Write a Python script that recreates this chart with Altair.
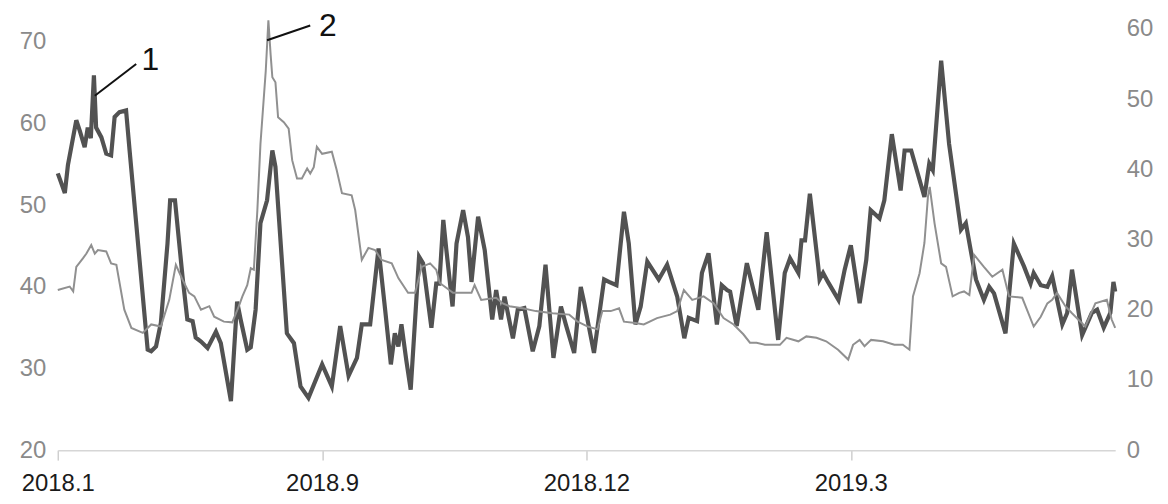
import altair as alt
import pandas as pd

# x positions are in trading-day index units (label every 60 units)
x_ticks = [0, 60, 120, 180]
x_labels = ["2018.1", "2018.9", "2018.12", "2019.3"]
left_ticks = [20, 30, 40, 50, 60, 70]
right_ticks = [0, 10, 20, 30, 40, 50, 60]

# dark series (left axis)
dark_x = [0, 1.6, 2.3, 4.2, 5.0, 6.1, 6.8, 7.5, 8.2, 8.7, 9.9, 11.0, 12.1, 12.9, 14.0, 15.5, 16.3,
          20.4, 21.2, 22.3, 23.4, 24.9, 25.5, 26.6, 28.3, 29.4, 30.6, 31.3, 32.5, 34.0, 35.9, 37.0,
          39.3, 40.7, 41.5, 43.0, 43.8, 44.9, 46.0, 47.5, 48.7, 49.4, 52.0, 53.6, 55.1, 56.9, 60.0,
          62.2, 64.1, 66.0, 67.9, 69.0, 70.9, 72.8, 74.3, 75.6, 76.5, 77.3, 78.0, 79.1, 80.1, 82.0,
          82.9, 84.8, 85.9, 86.6, 87.5, 88.2, 89.6, 90.5, 92.0, 93.1, 93.9, 95.4, 96.9, 98.6, 99.5,
          100.6, 101.4, 103.3, 104.4, 105.9, 107.8, 109.3, 110.7, 112.5, 114.2, 115.3, 117.2, 118.7,
          119.5, 121.7, 124.0, 125.1, 126.8, 128.5, 129.6, 131.1, 132.3, 133.8, 136.4, 138.3, 140.6,
          142.2, 143.2, 145.1, 146.2, 147.7, 149.6, 150.7, 151.9, 152.6, 154.1, 156.4, 159.0, 160.9,
          163.5, 165.0, 166.2, 168.1, 168.8, 169.6, 170.7, 172.6, 172.9, 173.7, 174.8, 177.2, 178.6,
          180.0, 182.0, 183.5, 184.5, 186.5, 187.6, 189.3, 191.3, 192.2, 193.7, 196.7, 197.8, 198.6,
          200.5, 202.3, 205.0, 206.1, 208.4, 210.2, 211.4, 212.5, 215.1, 217.0, 219.3, 220.8, 221.5,
          223.1, 224.6, 225.7, 228.0, 229.1, 230.2, 232.5, 234.7, 235.9, 237.4, 238.9, 239.6, 240.0]
dark_v = [53.9, 51.5, 54.9, 60.4, 59.1, 57.1, 59.5, 58.2, 65.9, 59.5, 58.3, 56.3, 56.1, 60.8, 61.4, 61.6, 56.7,
          32.3, 32.1, 32.7, 35.6, 45.3, 50.6, 50.6, 41.3, 36.0, 35.8, 33.8, 33.3, 32.5, 34.5, 33.1,
          26.0, 38.2, 36.0, 32.3, 32.6, 37.2, 47.8, 50.6, 56.7, 54.7, 34.3, 33.1, 27.8, 26.4, 30.5,
          27.8, 35.2, 29.1, 31.3, 35.4, 35.4, 44.7, 37.2, 30.5, 34.3, 32.7, 35.4, 31.0, 27.4, 43.7,
          42.9, 35.0, 40.4, 40.4, 48.2, 44.5, 37.6, 45.3, 49.4, 46.1, 40.6, 48.6, 44.5, 36.0, 39.6,
          36.0, 38.8, 33.7, 37.2, 37.4, 32.1, 35.2, 42.7, 31.3, 37.6, 35.4, 31.9, 40.0,
          38.0, 31.9, 40.9, 40.6, 40.2, 49.2, 45.3, 35.4, 37.6, 43.1, 40.9, 42.7, 38.8,
          33.7, 36.2, 35.8, 41.7, 44.1, 35.4, 40.2, 39.6, 39.4, 35.2, 42.9, 37.2, 46.7,
          33.5, 41.7, 43.5, 41.7, 45.7, 45.7, 51.4, 42.5, 40.9, 41.7, 40.6, 38.4, 42.1,
          45.1, 38.0, 43.3, 49.4, 48.4, 50.6, 58.7, 51.8, 56.7, 56.7, 51.0, 55.1, 54.3,
          67.7, 57.5, 47.0, 47.8, 40.9, 38.4, 40.0, 39.2, 34.3, 45.3, 42.5, 40.4, 41.7,
          40.2, 40.0, 41.3, 35.4, 36.8, 42.1, 34.1, 36.8, 37.2, 35.0, 36.8, 40.6, 39.4]

# light series (right axis)
light_x = [0, 2.7, 3.5, 4.2, 5.7, 6.5, 7.6, 8.4, 9.1, 11.0, 12.1, 13.3, 15.1, 16.7, 19.3, 21.2, 23.4,
           25.3, 26.8, 28.3, 29.8, 31.0, 32.5, 34.4, 35.5, 37.7, 39.6, 41.1, 41.9, 43.0, 43.8, 44.5,
           45.3, 46.0, 47.2, 47.8, 48.3, 48.7, 49.4, 50.0, 51.3, 52.4, 53.2, 54.3, 55.4, 56.6, 57.3,
           58.1, 58.8, 60.0, 62.2, 63.3, 64.5, 66.7, 67.5, 69.0, 70.5, 72.0, 73.5, 75.8, 77.3, 79.5,
           81.1, 82.6, 84.5, 85.9, 86.7, 89.7, 93.9, 94.6, 96.1, 99.5, 101.0, 102.5, 105.5, 108.5,
           112.3, 116.1, 118.0, 120.3, 122.5, 123.6, 125.5, 127.4, 128.5, 131.1, 133.0, 136.0, 139.0,
           140.6, 142.1, 144.0, 146.6, 148.9, 151.1, 153.4, 155.6, 157.1, 158.6, 160.5, 163.9, 165.4,
           168.1, 169.9, 172.2, 174.4, 177.1, 179.4, 180.5, 182.0, 183.1, 184.6, 187.3, 189.9, 191.8,
           193.3, 194.1, 195.6, 196.7, 197.5, 197.9, 199.0, 200.5, 201.6, 203.1, 204.6, 205.7, 206.9,
           208.0, 210.2, 212.1, 214.4, 215.9, 218.9, 221.5, 223.1, 224.6, 225.7, 226.8, 228.7, 230.2,
           233.2, 235.5, 238.1, 239.2, 240.0]
light_v = [22.8, 23.3, 22.6, 26.1, 27.3, 28.0, 29.2, 28.0, 28.5, 28.3, 26.6, 26.4, 20.0, 17.4, 16.7, 17.9, 17.6,
           21.4, 26.4, 24.3, 22.4, 21.9, 20.0, 20.5, 19.0, 18.3, 18.2, 20.5, 21.9, 23.5, 25.9, 25.7,
           34.2, 43.6, 54.0, 61.2, 56.4, 53.1, 52.4, 47.4, 46.7, 45.8, 41.3, 38.7, 38.7, 40.1, 39.4,
           40.3, 43.2, 42.2, 42.5, 39.9, 36.6, 36.3, 34.2, 27.1, 28.8, 28.5, 27.1, 26.6, 24.5, 22.4,
           22.4, 26.1, 26.6, 25.7, 23.8, 22.4, 22.4, 23.5, 21.4, 21.7, 20.9, 20.5, 20.2, 19.8,
           19.5, 19.3, 18.3, 17.6, 17.2, 19.8, 19.8, 20.2, 18.3, 18.1, 17.9, 18.8, 19.3,
           19.8, 22.8, 21.4, 21.9, 20.9, 18.8, 17.9, 16.5, 15.3, 15.3, 15.0, 15.0, 16.0,
           15.5, 16.2, 16.0, 15.5, 14.3, 12.9, 15.0, 15.7, 14.8, 15.7, 15.5, 15.0, 15.0,
           14.3, 21.9, 25.2, 29.5, 36.1, 37.5, 32.3, 26.6, 26.1, 21.9, 22.4, 22.6, 22.1,
           27.8, 26.1, 24.7, 25.7, 21.9, 21.7, 17.6, 19.0, 20.9, 21.4, 22.4, 20.5, 19.5,
           17.6, 20.9, 21.4, 18.6, 17.4]

# annotations (left-axis units)
ann_label = ["1", "2"]
ann_x0 = [8.4, 47.5]
ann_y0 = [63.4, 70.2]
ann_x1 = [17.8, 57.3]
ann_y1 = [67.3, 72.0]
ann_tx = [21.0, 61.3]
ann_ty = [67.8, 71.9]

dark = pd.DataFrame({"x": dark_x, "v": dark_v})
light = pd.DataFrame({"x": light_x, "v": light_v})
ann = pd.DataFrame({"label": ann_label, "x0": ann_x0, "y0": ann_y0, "x1": ann_x1,
                    "y1": ann_y1, "tx": ann_tx, "ty": ann_ty})

FONT = "Liberation Sans"
label_expr = "".join(f"datum.value == {t} ? '{l}' : " for t, l in zip(x_ticks, x_labels)) + "''"

xscale = alt.Scale(domain=[0, 240], nice=False, zero=False)
lscale = alt.Scale(domain=[20, 72.8], nice=False, zero=False)
rscale = alt.Scale(domain=[0, 61.4], nice=False, zero=False)

xaxis = alt.Axis(values=x_ticks, labelExpr=label_expr, grid=False, title=None,
                 domainColor="#d6d6d6", domainWidth=1.5, tickColor="#cfcfcf", tickWidth=1.5,
                 tickSize=10, labelFontSize=24, labelColor="#1a1a1a", labelFont=FONT,
                 labelPadding=12, labelFlush=False)

hidden_y = alt.Axis(labels=False, ticks=False, domain=False, grid=False, title=None)

dark_line = alt.Chart(dark).mark_line(color="#525252", strokeWidth=4.2).encode(
    x=alt.X("x:Q", scale=xscale, axis=xaxis),
    y=alt.Y("v:Q", scale=lscale,
            axis=alt.Axis(orient="left", values=left_ticks, grid=False, domain=False, ticks=False,
                          title=None, labelFontSize=24, labelColor="#8a8a8a", labelFont=FONT,
                          labelPadding=12)),
)

light_line = alt.Chart(light).mark_line(color="#909090", strokeWidth=2).encode(
    x=alt.X("x:Q", scale=xscale, axis=xaxis),
    y=alt.Y("v:Q", scale=rscale,
            axis=alt.Axis(orient="right", values=right_ticks, grid=False, domain=False, ticks=False,
                          title=None, labelFontSize=24, labelColor="#8a8a8a", labelFont=FONT,
                          labelPadding=11)),
)

ann_rule = alt.Chart(ann).mark_rule(color="#111111", strokeWidth=2).encode(
    x=alt.X("x0:Q", scale=xscale, axis=xaxis),
    x2="x1:Q",
    y=alt.Y("y0:Q", scale=lscale, axis=hidden_y),
    y2="y1:Q",
)

ann_text = alt.Chart(ann).mark_text(fontSize=32, font=FONT, color="#111111",
                                    align="center", baseline="middle").encode(
    x=alt.X("tx:Q", scale=xscale, axis=xaxis),
    y=alt.Y("ty:Q", scale=lscale, axis=hidden_y),
    text="label:N",
)

chart = alt.layer(dark_line, light_line, ann_rule, ann_text).resolve_scale(
    y="independent"
).properties(
    width=1062, height=433,
    background="white",
    autosize=alt.AutoSizeParams(type="none"),
    padding={"left": 50, "top": 10, "right": 45, "bottom": 45},
).configure_view(strokeWidth=0, stroke="transparent")

chart.save("out.html", embed_options={"renderer": "svg", "actions": False})
